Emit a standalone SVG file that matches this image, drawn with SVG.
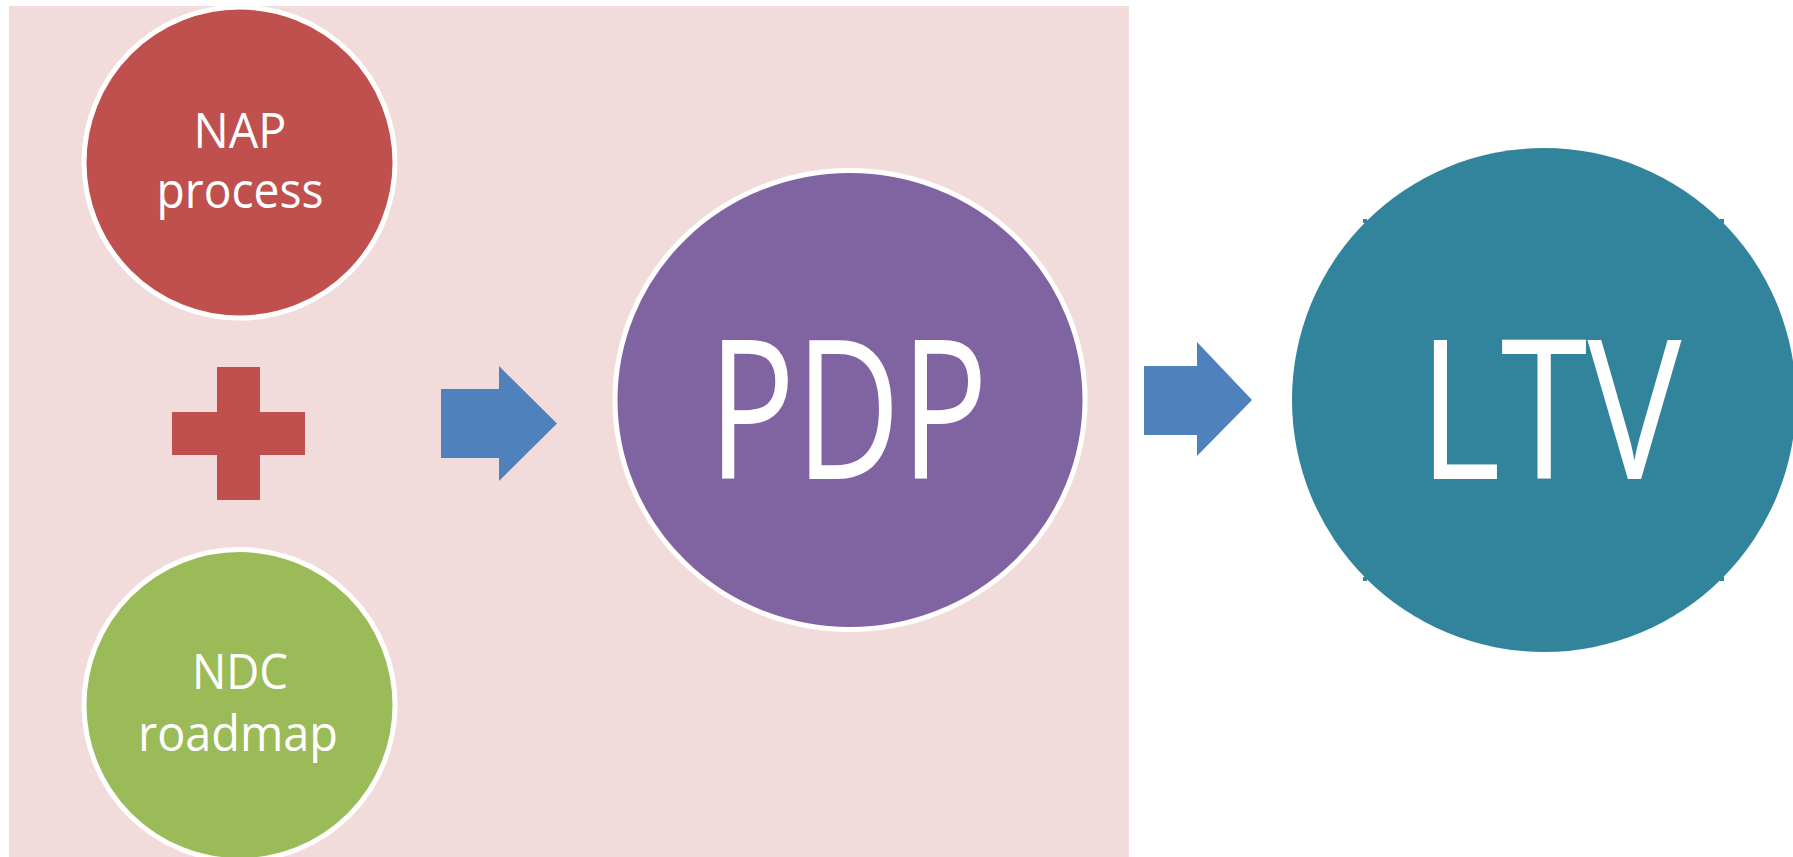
<svg xmlns="http://www.w3.org/2000/svg" width="1793" height="857" viewBox="0 0 1793 857">
<style>
.lbl{font-family:"Open Sans","Noto Sans","Liberation Sans",sans-serif;fill:#ffffff;text-anchor:middle}
.big{font-size:194px;font-weight:500}
.ring{stroke:#ffffff;stroke-width:5}
.arrow{fill:#4F81BD}
</style>
<rect width="1793" height="857" fill="#ffffff"/>
<g id="background">
<rect x="9" y="6" width="1120" height="851" fill="#F2DCDB"/>
</g>
<g id="nap">
<circle cx="239.5" cy="162.5" r="155.5" fill="#C0504D" class="ring"/>
<text class="lbl" x="240" y="148" font-size="49" textLength="93" lengthAdjust="spacingAndGlyphs">NAP</text>
<text class="lbl" x="240" y="208" font-size="49" textLength="167" lengthAdjust="spacingAndGlyphs">process</text>
</g>
<g id="plus">
<rect x="217" y="367" width="43" height="133" fill="#C0504D"/>
<rect x="172" y="412" width="133" height="43" fill="#C0504D"/>
</g>
<g id="ndc">
<circle cx="239.5" cy="705" r="155.5" fill="#9BBB59" class="ring"/>
<text class="lbl" x="240" y="689" font-size="49" textLength="96" lengthAdjust="spacingAndGlyphs">NDC</text>
<text class="lbl" x="238" y="751" font-size="49" textLength="200" lengthAdjust="spacingAndGlyphs">roadmap</text>
</g>
<g id="pdp">
<ellipse cx="850" cy="400" rx="235" ry="229.5" fill="#8064A2" class="ring"/>
<text class="lbl big" x="848" y="479" textLength="280" lengthAdjust="spacingAndGlyphs">PDP</text>
</g>
<g id="ltv">
<circle cx="1544" cy="400" r="252" fill="#31849B"/>
<rect x="1363" y="219" width="4" height="4" fill="#31849B"/>
<rect x="1720" y="219" width="4" height="4" fill="#31849B"/>
<rect x="1363" y="577" width="4" height="4" fill="#31849B"/>
<rect x="1720" y="577" width="4" height="4" fill="#31849B"/>
<text class="lbl big" x="1550" y="479" textLength="263" lengthAdjust="spacingAndGlyphs">LTV</text>
</g>
<g id="connectors">
<polygon class="arrow" points="441,389 499,389 499,366 557,423.5 499,481 499,458 441,458"/>
<polygon class="arrow" points="1144,366 1197,366 1197,342 1252,400 1197,456 1197,435 1144,435"/>
</g>
</svg>
